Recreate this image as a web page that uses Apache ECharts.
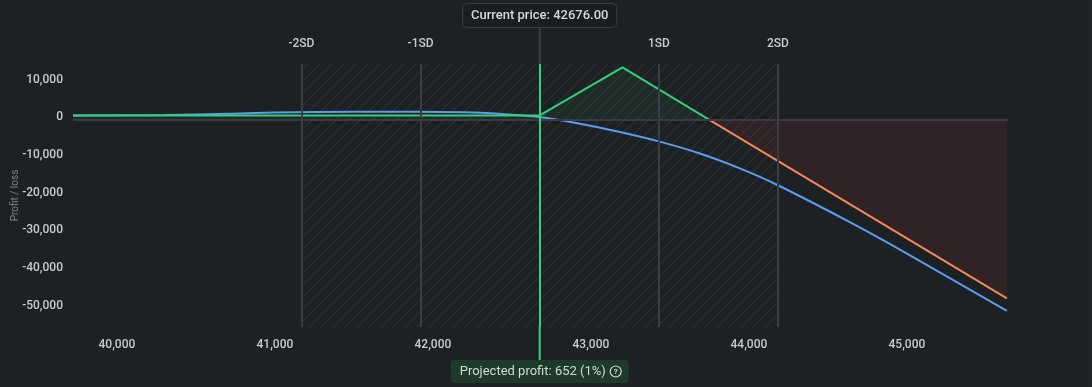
<!DOCTYPE html>
<html>
<head>
<meta charset="utf-8">
<script src="https://cdn.jsdelivr.net/npm/echarts@6/dist/echarts.min.js"></script>
<style>
html,body{margin:0;padding:0;background:#1e2124;}
#c{width:1092px;height:387px;}
</style>
</head>
<body>
<div id="c"></div>
<script>
// ---- data ----
const xRange = [39722, 45640];
const yRange = [-55070, 14700];
const xTicks = [40000, 41000, 42000, 43000, 44000, 45000];
const yTicks = [10000, 0, -10000, -20000, -30000, -40000, -50000];
const currentPrice = 42676;
const sdLevels = [41168, 41922, 43430, 44184];
const sdLabels = ['-2SD', '-1SD', '1SD', '2SD'];
const todayPrices = [39722, 40300, 40700, 41000, 41500, 41900, 42200, 42400, 42676, 42899, 43184, 43430, 43690, 43943, 44184, 44639, 44956, 45633];
const todayValues = [1050, 1150, 1500, 1850, 2000, 2050, 1900, 1550, 652, -870, -3330, -5830, -9050, -13000, -17470, -27250, -34540, -50800];
const expiryProfitPrices = [39722, 42676, 43200, 43745];
const expiryProfitValues = [1050, 1050, 13820, 0];
const expiryLossPrices = [43745, 45633];
const expiryLossValues = [0, -47450];
const projectedText = 'Projected profit: 652 (1%)';
const currentText = 'Current price: 42676.00';

(function () {
const zip = (a, b) => a.map((v, i) => [v, b[i]]);

// hatch pattern
const pc = document.createElement('canvas');
pc.width = 12; pc.height = 12;
const g = pc.getContext('2d');
g.strokeStyle = '#2a2d31';
g.lineWidth = 1.3;
g.beginPath();
g.moveTo(0, 12); g.lineTo(12, 0);
g.moveTo(-2, 2); g.lineTo(2, -2);
g.moveTo(10, 14); g.lineTo(14, 10);
g.stroke();

const chart = echarts.init(document.getElementById('c'));
const GRID = {left: 73, right: 84, top: 64, bottom: 60, outerBoundsMode: 'none', containLabel: false};
const txt = '#c8cacd';

chart.setOption({
  backgroundColor: '#1e2124',
  animation: false,
  grid: GRID,
  xAxis: {
    type: 'value', min: xRange[0], max: xRange[1],
    axisLine: {show: false}, axisTick: {show: false}, splitLine: {show: false},
    axisLabel: {customValues: xTicks, color: txt, fontSize: 12, fontWeight: 500, fontFamily: 'Roboto', margin: 12,
      formatter: v => v.toLocaleString('en-US')}
  },
  yAxis: {
    type: 'value', min: yRange[0], max: yRange[1],
    name: 'Profit / loss', nameLocation: 'middle', nameGap: 53, nameMoveOverlap: false,
    nameTextStyle: {color: '#7e8186', fontSize: 10, fontFamily: 'Roboto'},
    axisLine: {show: false}, axisTick: {show: false}, splitLine: {show: false},
    axisLabel: {customValues: yTicks, color: txt, fontSize: 12, fontWeight: 500, fontFamily: 'Roboto', margin: 10,
      verticalAlign: 'bottom', lineHeight: 4,
      formatter: v => v.toLocaleString('en-US')}
  },
  series: [
    {
      type: 'line', data: [], silent: true,
      markArea: {
        silent: true,
        itemStyle: {color: {image: pc, repeat: 'repeat'}},
        data: [[{xAxis: sdLevels[0], yAxis: yRange[1]}, {xAxis: sdLevels[3], yAxis: yRange[0]}]]
      },
      markLine: {
        silent: true, symbol: 'none', animation: false,
        lineStyle: {color: '#3a3d43', width: 2, type: 'solid'},
        label: {show: true, position: 'end', distance: 14, color: txt, fontSize: 12, fontWeight: 500, fontFamily: 'Roboto',
          formatter: p => p.name},
        data: sdLevels.map((v, i) => ({xAxis: v, name: sdLabels[i]}))
          .concat([{yAxis: 0, name: '', label: {show: false}, lineStyle: {color: '#393c42', width: 2}}])
      }
    },
    {
      type: 'line', data: zip(todayPrices, todayValues), smooth: 0.3,
      showSymbol: false, lineStyle: {color: '#5b9cec', width: 2}, z: 3
    },
    {
      type: 'line', data: zip(expiryProfitPrices, expiryProfitValues),
      showSymbol: false, lineStyle: {color: '#35cf7a', width: 2},
      areaStyle: {color: 'rgba(46,204,113,0.1)', origin: 0}, z: 4
    },
    {
      type: 'line', data: zip(expiryLossPrices, expiryLossValues),
      showSymbol: false, lineStyle: {color: '#f4875e', width: 2},
      areaStyle: {color: 'rgba(255,70,60,0.11)', origin: 0}, z: 4
    },
    {
      type: 'line', data: [], silent: true, z: 5,
      markLine: {
        silent: true, symbol: 'none', animation: false, label: {show: false},
        lineStyle: {color: '#35cf7a', width: 2, type: 'solid'},
        data: [{xAxis: currentPrice}]
      }
    }
  ]
});

const px = chart.convertToPixel({xAxisIndex: 0}, currentPrice);
const H = 387;
const gTop = GRID.top, gBot = H - GRID.bottom;
chart.setOption({
  graphic: [
    {type: 'line', shape: {x1: px, y1: 27, x2: px, y2: gTop}, style: {stroke: '#3a3d43', lineWidth: 2}, z: 10},
    {type: 'line', shape: {x1: px, y1: gBot, x2: px, y2: 360}, style: {stroke: '#35cf7a', lineWidth: 2}, z: 10},
    {type: 'rect', shape: {x: px - 77, y: 3.5, width: 154, height: 24, r: 4},
      style: {fill: '#1b1e21', stroke: '#3a3d42', lineWidth: 1}, z: 11},
    {type: 'text', x: px, y: 15.5, style: {text: currentText, align: 'center', verticalAlign: 'middle',
      fill: '#d5d7da', font: '500 13px Roboto'}, z: 12},
    {type: 'rect', shape: {x: px - 89, y: 360, width: 178, height: 23, r: 4},
      style: {fill: '#1d3a2b'}, z: 11},
    {type: 'text', x: px - 80, y: 371.5, style: {text: projectedText, align: 'left', verticalAlign: 'middle',
      fill: '#d4dad6', font: '13px Roboto'}, z: 12},
    {type: 'circle', shape: {cx: px + 76, cy: 371.5, r: 5.5}, style: {fill: 'none', stroke: '#d4dad6', lineWidth: 1.2}, z: 12},
    {type: 'text', x: px + 76, y: 372, style: {text: '?', align: 'center', verticalAlign: 'middle',
      fill: '#d4dad6', font: 'bold 8px Roboto'}, z: 12},
    {type: 'rect', shape: {x: 1088, y: 0, width: 4, height: H}, style: {fill: '#232629'}, z: 1}
  ]
});
})();
</script>
</body>
</html>
